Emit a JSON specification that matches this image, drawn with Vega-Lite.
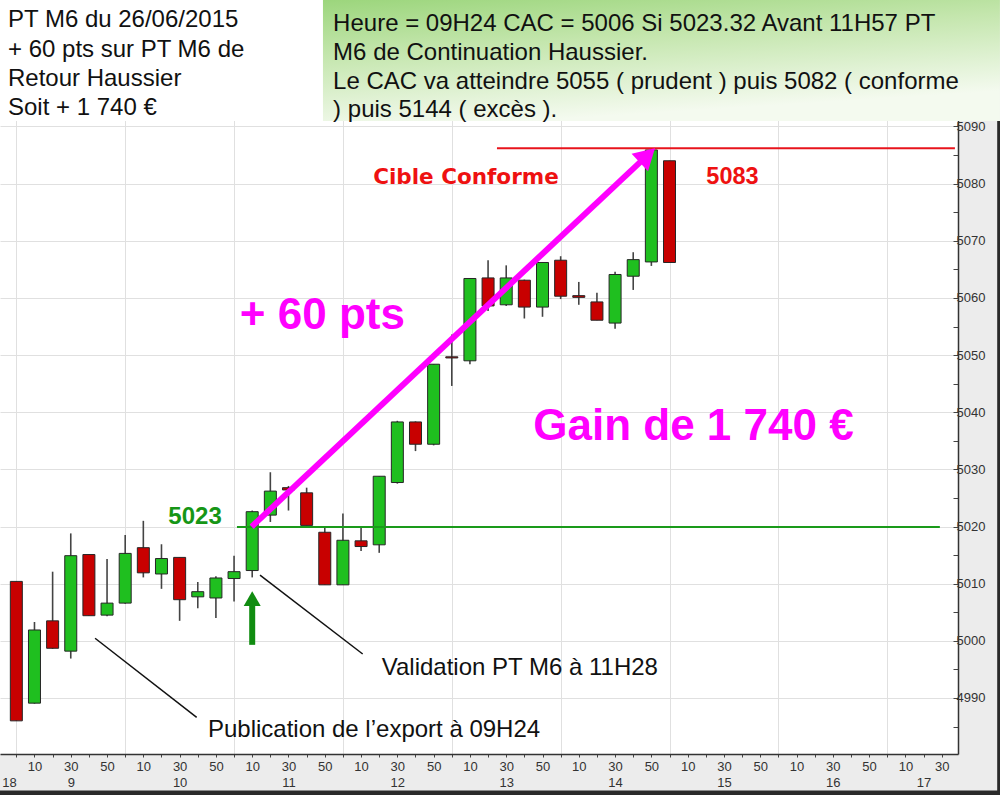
{
  "$schema": "https://vega.github.io/schema/vega-lite/v6.json",
  "width": 958,
  "height": 754,
  "autosize": "none",
  "padding": {"left": 0, "top": 0, "right": 42, "bottom": 41},
  "background": "#ececec",
  "config": {
    "view": {"stroke": null, "fill": "white"},
    "font": "Liberation Sans",
    "scale": {"continuousPadding": 0},
    "axis": {"labelFont": "Liberation Sans", "domainColor": "#333", "domainWidth": 1.5, "tickColor": "#444", "gridColor": "#e0e0e0", "gridWidth": 1, "labelColor": "#333", "labelFontSize": 13, "labelOverlap": false, "grid": true}
  },
  "datasets": {
    "candles": [
      {"t": 540, "o": 5010.4, "v2": 5010.4, "v": 4986.0, "c": 4986.0},
      {"t": 550, "o": 4989.1, "v2": 5003.3, "v": 4989.0, "c": 5001.9},
      {"t": 560, "o": 5003.5, "v2": 5012.1, "v": 4998.6, "c": 4998.7},
      {"t": 570, "o": 4998.2, "v2": 5018.8, "v": 4996.9, "c": 5014.9},
      {"t": 580, "o": 5015.1, "v2": 5015.1, "v": 5004.4, "c": 5004.4},
      {"t": 590, "o": 5004.5, "v2": 5014.3, "v": 5004.3, "c": 5006.6},
      {"t": 600, "o": 5006.6, "v2": 5018.5, "v": 5006.5, "c": 5015.3},
      {"t": 610, "o": 5016.3, "v2": 5021.0, "v": 5011.1, "c": 5011.9},
      {"t": 620, "o": 5011.7, "v2": 5016.9, "v": 5009.1, "c": 5014.4},
      {"t": 630, "o": 5014.6, "v2": 5014.6, "v": 5003.5, "c": 5007.2},
      {"t": 640, "o": 5007.7, "v2": 5010.3, "v": 5005.7, "c": 5008.6},
      {"t": 650, "o": 5007.5, "v2": 5011.3, "v": 5004.0, "c": 5011.0},
      {"t": 660, "o": 5010.9, "v2": 5014.9, "v": 5006.9, "c": 5012.1},
      {"t": 670, "o": 5012.3, "v2": 5022.8, "v": 5011.1, "c": 5022.6},
      {"t": 680, "o": 5022.0, "v2": 5029.5, "v": 5020.8, "c": 5026.2},
      {"t": 690, "o": 5026.8, "v2": 5027.1, "v": 5022.8, "c": 5026.4},
      {"t": 700, "o": 5025.9, "v2": 5026.8, "v": 5020.2, "c": 5020.2},
      {"t": 710, "o": 5019.0, "v2": 5019.8, "v": 5009.8, "c": 5009.8},
      {"t": 720, "o": 5009.8, "v2": 5022.3, "v": 5009.8, "c": 5017.6},
      {"t": 730, "o": 5017.5, "v2": 5020.0, "v": 5015.7, "c": 5016.5},
      {"t": 740, "o": 5016.8, "v2": 5028.8, "v": 5015.4, "c": 5028.8},
      {"t": 750, "o": 5027.7, "v2": 5038.5, "v": 5027.5, "c": 5038.3},
      {"t": 760, "o": 5038.3, "v2": 5038.4, "v": 5033.2, "c": 5034.4},
      {"t": 770, "o": 5034.4, "v2": 5048.4, "v": 5034.2, "c": 5048.4},
      {"t": 780, "o": 5049.7, "v2": 5053.6, "v": 5044.6, "c": 5049.5},
      {"t": 790, "o": 5049.0, "v2": 5063.4, "v": 5048.4, "c": 5063.4},
      {"t": 800, "o": 5063.5, "v2": 5066.6, "v": 5057.7, "c": 5058.6},
      {"t": 810, "o": 5058.8, "v2": 5065.7, "v": 5058.6, "c": 5063.5},
      {"t": 820, "o": 5063.1, "v2": 5063.2, "v": 5056.4, "c": 5058.4},
      {"t": 830, "o": 5058.4, "v2": 5066.2, "v": 5056.7, "c": 5066.2},
      {"t": 840, "o": 5066.6, "v2": 5067.3, "v": 5059.8, "c": 5060.3},
      {"t": 850, "o": 5060.4, "v2": 5062.8, "v": 5058.8, "c": 5060.1},
      {"t": 860, "o": 5059.3, "v2": 5060.9, "v": 5056.1, "c": 5056.1},
      {"t": 870, "o": 5055.6, "v2": 5064.6, "v": 5054.6, "c": 5064.1},
      {"t": 880, "o": 5063.8, "v2": 5068.0, "v": 5061.4, "c": 5066.7},
      {"t": 890, "o": 5066.3, "v2": 5086.2, "v": 5065.6, "c": 5085.9},
      {"t": 900, "o": 5084.0, "v2": 5084.0, "v": 5066.2, "c": 5066.2}
    ]
  },
  "encoding": {
    "x": {"field": "t", "type": "quantitative", "scale": {"domain": [531, 1059], "nice": false, "zero": false, "padding": 0},
      "axis": {"title": null, "values": [532, 540, 550, 560, 570, 580, 590, 600, 610, 620, 630, 640, 650, 660, 670, 680, 690, 700, 710, 720, 730, 740, 750, 760, 770, 780, 790, 800, 810, 820, 830, 840, 850, 860, 870, 880, 890, 900, 910, 920, 930, 940, 950, 960, 970, 980, 990, 1000, 1010, 1020, 1030, 1040, 1050],
        "labelExpr": "datum.value == 532 ? ['', '18'] : (datum.value == 1050 ? '30' : (datum.value % 60 == 30 ? ['30', '' + floor(datum.value / 60)] : (datum.value == 1040 ? ['', '17'] : ((datum.value % 60 == 10 || datum.value % 60 == 50) ? '' + (datum.value % 60) : ''))))",
        "labelOverlap": false, "labelBound": false, "labelFlush": false,
        "labelAlign": {"condition": {"test": "datum.value == 532", "value": "left"}, "value": "center"},
        "labelBaseline": "top", "labelLineHeight": 16, "labelPadding": 3, "tickSize": 3,
        "tickOpacity": {"condition": {"test": "datum.value == 532", "value": 0}, "value": 1},
        "grid": true,
        "gridOpacity": {"condition": {"test": "datum.value % 60 == 0", "value": 1}, "value": 0}}},
    "y": {"field": "v", "type": "quantitative", "scale": {"domain": [4980.2, 5112.13], "nice": false, "zero": false, "padding": 0},
      "axis": {"title": null, "orient": "right", "values": [4985, 4990, 4995, 5000, 5005, 5010, 5015, 5020, 5025, 5030, 5035, 5040, 5045, 5050, 5055, 5060, 5065, 5070, 5075, 5080, 5085, 5090],
        "labelExpr": "datum.value % 10 == 0 ? '' + datum.value : ''",
        "labelOverlap": false, "labelBound": false, "labelFlush": false,
        "tickSize": -5, "labelPadding": 3, "grid": true,
        "gridOpacity": {"condition": {"test": "datum.value % 10 == 0", "value": 1}, "value": 0}}}
  },
  "layer": [
    {
      "data": {"values": [{"t": 515, "t2": 709, "v": 5090.96, "v2": 5116}]},
      "mark": {"type": "rect", "color": "white"},
      "encoding": {"x2": {"field": "t2"}, "y2": {"field": "v2"}}
    },
    {
      "data": {"values": [{"t": 709, "t2": 1082.1, "v": 5090.96, "v2": 5116}]},
      "mark": {"type": "rect", "color": {"gradient": "linear", "x1": 0, "y1": 0, "x2": 0.3, "y2": 1, "stops": [{"offset": 0, "color": "#8ccf69"}, {"offset": 0.5, "color": "#c4e6ad"}, {"offset": 1, "color": "#f4faef"}]}},
      "encoding": {"x2": {"field": "t2"}, "y2": {"field": "v2"}}
    },
    {
      "data": {"values": [
        {"t": 1080.6, "t2": 1090, "v": 4960, "v2": 5090.96},
        {"t": 515, "t2": 1090, "v": 4960, "v2": 4973.81}
      ]},
      "mark": {"type": "rect", "color": "#2a2a2a"},
      "encoding": {"x2": {"field": "t2"}, "y2": {"field": "v2"}}
    },
    {
      "data": {"values": [
        {"t": 535.4, "v": 5107.35, "text": "PT M6 du  26/06/2015"},
        {"t": 535.4, "v": 5102.24, "text": "+ 60 pts sur PT M6 de"},
        {"t": 535.4, "v": 5097.13, "text": "Retour Haussier"},
        {"t": 535.4, "v": 5092.03, "text": "Soit + 1 740 €"}
      ]},
      "mark": {"type": "text", "align": "left", "baseline": "alphabetic", "fontSize": 24, "font": "Liberation Sans", "color": "#111"},
      "encoding": {"text": {"field": "text"}}
    },
    {
      "data": {"values": [
        {"t": 714.6, "v": 5106.71, "text": "Heure = 09H24 CAC = 5006 Si 5023.32 Avant 11H57  PT"},
        {"t": 714.6, "v": 5101.63, "text": "M6 de Continuation Haussier."},
        {"t": 714.6, "v": 5096.56, "text": "Le CAC va atteindre 5055 ( prudent ) puis 5082 ( conforme"},
        {"t": 714.6, "v": 5091.66, "text": ") puis 5144 ( excès )."}
      ]},
      "mark": {"type": "text", "align": "left", "baseline": "alphabetic", "fontSize": 24, "font": "Liberation Sans", "color": "#111"},
      "encoding": {"text": {"field": "text"}}
    },
    {
      "data": {"name": "candles"},
      "mark": {"type": "rule", "color": "#444", "strokeWidth": 1.6},
      "encoding": {"y2": {"field": "v2"}}
    },
    {
      "data": {"name": "candles"},
      "mark": {"type": "bar", "width": 12, "stroke": "#262626", "strokeWidth": 1},
      "encoding": {
        "y": {"field": "o", "type": "quantitative", "scale": {"domain": [4980.2, 5112.13], "nice": false, "zero": false, "padding": 0},
          "axis": {"title": null, "orient": "right", "values": [4985, 4990, 4995, 5000, 5005, 5010, 5015, 5020, 5025, 5030, 5035, 5040, 5045, 5050, 5055, 5060, 5065, 5070, 5075, 5080, 5085, 5090],
            "labelExpr": "datum.value % 10 == 0 ? '' + datum.value : ''",
            "labelOverlap": false, "labelBound": false, "labelFlush": false,
            "tickSize": -5, "labelPadding": 3, "grid": true,
            "gridOpacity": {"condition": {"test": "datum.value % 10 == 0", "value": 1}, "value": 0}}},
        "y2": {"field": "c"},
        "color": {"condition": {"test": "datum.c >= datum.o", "value": "#1fbf1f"}, "value": "#c80000"}
      }
    },
    {
      "data": {"values": [{"t": 661.6, "t2": 1049, "v": 5019.9}]},
      "mark": {"type": "rule", "color": "#1a9a1a", "strokeWidth": 2},
      "encoding": {"x2": {"field": "t2"}}
    },
    {
      "data": {"values": [{"t": 804.9, "t2": 1057.3, "v": 5086.2}]},
      "mark": {"type": "rule", "color": "#e8141c", "strokeWidth": 2},
      "encoding": {"x2": {"field": "t2"}}
    },
    {
      "data": {"values": [
        {"t": 674.3, "v": 5011.5, "t2": 730.9, "v2": 4997.7},
        {"t": 583.4, "v": 5000.45, "t2": 639.4, "v2": 4986.6}
      ]},
      "mark": {"type": "rule", "color": "#111", "strokeWidth": 1.5},
      "encoding": {"x2": {"field": "t2"}, "y2": {"field": "v2"}}
    },
    {
      "data": {"values": [{"t": 669.7, "v": 5019.97, "t2": 887.8, "v2": 5084.94}]},
      "mark": {"type": "rule", "color": "#ff00ff", "strokeWidth": 6},
      "encoding": {"x2": {"field": "t2"}, "y2": {"field": "v2"}}
    },
    {
      "data": {"values": [{"t": 887.8, "v": 5084.94}]},
      "mark": {"type": "point", "shape": "triangle-up", "filled": true, "opacity": 1, "color": "#ff00ff", "size": 576, "angle": 46.8},
      "encoding": {}
    },
    {
      "data": {"values": [{"t": 670, "v": 4999.3, "v2": 5006.5}]},
      "mark": {"type": "rule", "color": "#108c10", "strokeWidth": 6},
      "encoding": {"y2": {"field": "v2"}}
    },
    {
      "data": {"values": [{"t": 670, "v": 5007.4}]},
      "mark": {"type": "point", "shape": "triangle-up", "filled": true, "opacity": 1, "color": "#108c10", "size": 289},
      "encoding": {}
    },
    {
      "data": {"values": [{"t": 638.5, "v": 5020.4, "text": "5023"}]},
      "mark": {"type": "text", "align": "center", "baseline": "alphabetic", "fontSize": 24, "fontWeight": "bold", "font": "Liberation Sans", "color": "#169616"},
      "encoding": {"text": {"field": "text"}}
    },
    {
      "data": {"values": [{"t": 787.8, "v": 5079.9, "text": "Cible Conforme"}]},
      "mark": {"type": "text", "align": "center", "baseline": "alphabetic", "fontSize": 21.5, "fontWeight": "bold", "font": "DejaVu Sans", "color": "#ee1111"},
      "encoding": {"text": {"field": "text"}}
    },
    {
      "data": {"values": [{"t": 934.7, "v": 5079.9, "text": "5083"}]},
      "mark": {"type": "text", "align": "center", "baseline": "alphabetic", "fontSize": 23.5, "fontWeight": "bold", "font": "Liberation Sans", "color": "#ee1111"},
      "encoding": {"text": {"field": "text"}}
    },
    {
      "data": {"values": [
        {"t": 708.7, "v": 5054.5, "text": "+ 60 pts"},
        {"t": 913.2, "v": 5035.1, "text": "Gain de 1 740 €"}
      ]},
      "mark": {"type": "text", "align": "center", "baseline": "alphabetic", "fontSize": 44, "fontWeight": "bold", "font": "Liberation Sans", "color": "#ff00ff"},
      "encoding": {"text": {"field": "text"}}
    },
    {
      "data": {"values": [
        {"t": 741.4, "v": 4994.0, "text": "Validation PT M6 à 11H28"},
        {"t": 645.6, "v": 4983.2, "text": "Publication de l’export à 09H24"}
      ]},
      "mark": {"type": "text", "align": "left", "baseline": "alphabetic", "fontSize": 24, "font": "Liberation Sans", "color": "#111"},
      "encoding": {"text": {"field": "text"}}
    }
  ]
}
